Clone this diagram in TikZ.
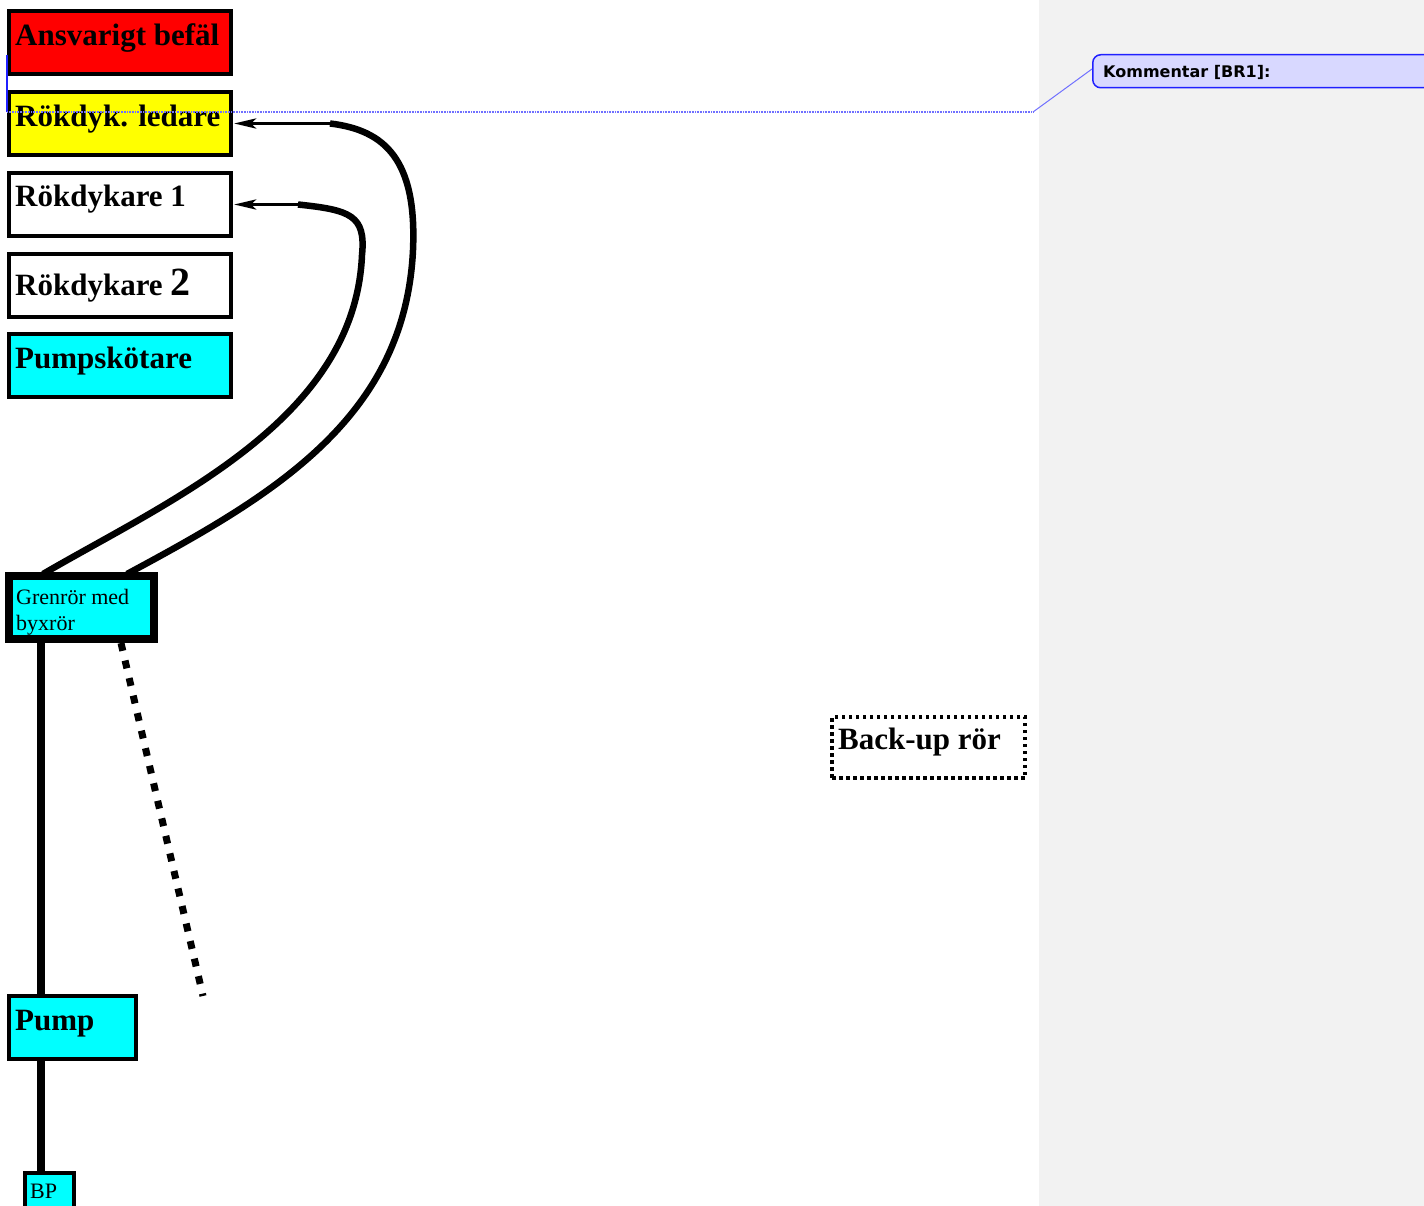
\documentclass[tikz,border=0pt]{standalone}
\usepackage{fontspec}
\setmainfont{Liberation Serif}
\newfontfamily\cmtfont{DejaVu Sans}
\usetikzlibrary{arrows.meta,calc}
\definecolor{cmtline}{HTML}{7070FF}
\definecolor{cmtblue}{HTML}{2020FF}
\definecolor{cmtfill}{HTML}{D8D8FF}
\definecolor{margin}{HTML}{F2F2F2}
\definecolor{aqua}{RGB}{0,255,255}
\definecolor{pred}{RGB}{255,0,0}
\definecolor{pyellow}{RGB}{255,255,0}
\tikzset{
  box/.style={draw=black, line width=4pt, inner sep=0pt, outer sep=0pt, anchor=north west,
    minimum width=222pt, minimum height=63pt},
  lbl/.style={anchor=base west, inner sep=0pt, font=\bfseries\fontsize{31}{31}\selectfont},
  small/.style={anchor=base west, inner sep=0pt, font=\fontsize{22}{22}\selectfont},
  hose/.style={line width=6.5pt, line cap=butt},
  feed/.style={line width=3.5pt, -{Stealth[length=22pt 0 0,width=10pt 0 0,inset=5pt 0]}},
  pipe/.style={line width=8pt},
}
\begin{document}
\begin{tikzpicture}[x=1pt,y=-1pt]
\useasboundingbox (0,0) rectangle (1424,1206);
\clip (0,0) rectangle (1424,1206);
% comment margin
\fill[margin] (1039,0) rectangle (1424,1206);

% boxes
\node[box, fill=pred] (befal) at (9,11) {};
\node[box, fill=pyellow] (ledare) at (9,92) {};
\node[box, fill=white] (rd1) at (9,173) {};
\node[box, fill=white] (rd2) at (9,254) {};
\node[box, fill=aqua] (psk) at (9,334) {};
\node[box, fill=aqua, line width=8pt, minimum width=145pt, minimum height=63pt] (gren) at (9,576) {};
\node[box, fill=aqua, minimum width=127pt, minimum height=63pt] (pump) at (9,996) {};
\node[box, fill=aqua, minimum width=49pt, minimum height=45pt] (bp) at (25,1173) {};
\node[box, dash pattern=on 3.5pt off 3.5pt, line width=3.5pt, minimum width=193pt, minimum height=61pt] (backup) at (832,717) {};

% texts
\node[lbl] (tbefal) at (15,46) {Ansvarigt befäl};
\node[lbl] (tledare) at (15,127) {Rökdyk. ledare};
\node[lbl] (trd1) at (15,207) {Rökdykare 1};
\node[lbl] (trd2) at (15,296) {Rökdykare {\fontsize{40}{40}\selectfont 2}};
\node[lbl] (tpsk) at (15,368) {Pumpskötare};
\node[small] (tgren1) at (16,604) {Grenrör med};
\node[small] (tgren2) at (16,630) {byxrör};
\node[lbl] (tpump) at (15,1030) {Pump};
\node[small] (tbp) at (30,1198) {BP};
\node[lbl] (tbackup) at (838,749) {Back-up rör};

% pipes
\coordinate (px) at (41,0);
\draw[pipe] (gren.south -| px) -- (pump.north -| px);
\draw[pipe] (pump.south -| px) -- (bp.north -| px);
\coordinate (bk1) at ($(gren.south west)+(112,4)$);
\coordinate (bk2) at (203,996);
\draw[line width=7pt, dash pattern=on 8pt off 10pt] (bk1) -- (bk2);

% hoses
\coordinate (s1) at ($(gren.north west)+(118,-2)$);
\coordinate (s2) at ($(gren.north west)+(34,-2)$);
\coordinate (h1) at ($(ledare.east)+(99,0)$);
\coordinate (h2) at ($(rd1.east)+(67,0)$);
\draw[hose] (s1) .. controls (270,497) and (405,420) .. (413,250)
  .. controls (417,160) and (385,130) .. (h1);
\draw[hose] (s2) .. controls (170,500) and (355,420) .. (362,255)
  .. controls (366,215) and (350,210) .. (h2);
\draw[feed] (h1) -- ([xshift=3pt]ledare.east);
\draw[feed] (h2) -- ([xshift=3pt]rd1.east);

% comment
\node[draw=cmtblue, fill=cmtfill, line width=1.5pt, rounded corners=8pt, anchor=north west,
  minimum width=400pt, minimum height=33pt, inner sep=0pt] (cmt) at (1092,54) {};
\node[anchor=base west, inner sep=0pt, font=\cmtfont\bfseries\fontsize{16}{16}\selectfont] (tcmt) at (1103,78) {Kommentar [BR1]:};
\coordinate (cmA) at (7,55);
\coordinate (cmB) at (7,112);
\coordinate (cmC) at (1033,112);
\draw[cmtblue, line width=1.5pt] (cmA) -- (cmB);
\draw[cmtline, line width=1.2pt, dash pattern=on 1pt off 0.6pt] (cmB) -- (cmC);
\draw[cmtline, line width=1pt] (cmC) -- ($(cmt.north west)+(0,15)$);
\end{tikzpicture}
\end{document}
